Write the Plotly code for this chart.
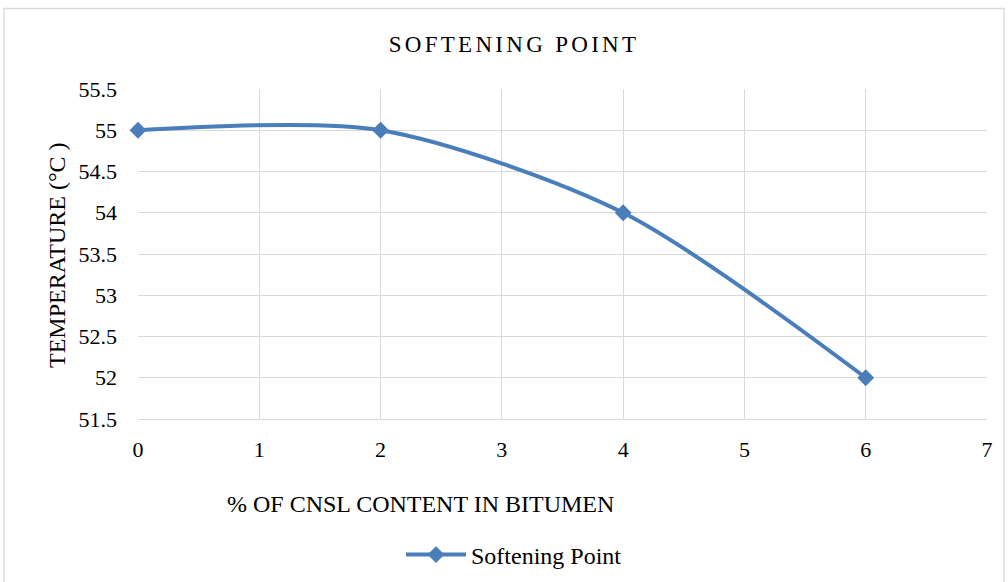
import plotly.graph_objects as go

cnsl_pct = [0, 2, 4, 6]
softening_point = [55, 55, 54, 52]
x_ticks = [0, 1, 2, 3, 4, 5, 6, 7]
y_ticks = [51.5, 52, 52.5, 53, 53.5, 54, 54.5, 55, 55.5]

W, H = 1008, 582
L, R, T, B = 138, 987, 89, 419
pw, ph = R - L, B - T

def px(xp):
    return (xp - L) / pw

def py(yp):
    return (B - yp) / ph

FONT = "Liberation Serif, Times New Roman, serif"
BLUE = "#4A7EBB"
GRID = "#d9d9d9"

fig = go.Figure()
fig.add_trace(go.Scatter(
    x=cnsl_pct, y=softening_point, mode="lines+markers",
    name="Softening Point",
    line=dict(color=BLUE, width=4, shape="spline", smoothing=0.8),
    marker=dict(symbol="diamond", size=13, color=BLUE),
    cliponaxis=False,
))

fig.update_layout(
    width=W, height=H,
    margin=dict(l=L, r=W - R, t=T, b=H - B, autoexpand=False),
    paper_bgcolor="white", plot_bgcolor="white",
    font=dict(family=FONT, size=22, color="#000000"),
    title=dict(
        text='<span style="letter-spacing:3.3px">SOFTENING POINT</span>',
        xref="container", yref="container",
        x=514 / W, y=1 - 44 / H, xanchor="center", yanchor="middle",
        font=dict(family=FONT, size=23, color="#000000"),
    ),
    xaxis=dict(
        range=[0, 7], tickvals=x_ticks, ticktext=[str(v) for v in x_ticks],
        showgrid=True, gridcolor=GRID, gridwidth=1.3,
        zeroline=False, showline=True, linecolor=GRID, linewidth=1.3,
        ticks="", ticklabelstandoff=10,
        tickfont=dict(family=FONT, size=22),
    ),
    yaxis=dict(
        range=[51.5, 55.5], tickvals=y_ticks,
        ticktext=[("%g" % v) for v in y_ticks],
        showgrid=True, gridcolor=GRID, gridwidth=1.3,
        zeroline=False, showline=False,
        ticks="", ticklabelstandoff=20,
        tickfont=dict(family=FONT, size=22),
    ),
    showlegend=True,
    legend=dict(
        orientation="h", x=px(514), y=py(555),
        xanchor="center", yanchor="middle",
        font=dict(family=FONT, size=24),
        itemwidth=60,
        bgcolor="rgba(0,0,0,0)",
    ),
    annotations=[
        dict(text="TEMPERATURE (°C )", xref="paper", yref="paper",
             x=px(57), y=py(255), textangle=-90, showarrow=False,
             xanchor="center", yanchor="middle",
             font=dict(family=FONT, size=24)),
        dict(text="% OF CNSL CONTENT IN BITUMEN", xref="paper", yref="paper",
             x=px(420), y=py(504), showarrow=False,
             xanchor="center", yanchor="middle",
             font=dict(family=FONT, size=24)),
    ],
    shapes=[
        dict(type="rect", xref="paper", yref="paper",
             x0=px(4), x1=px(1004), y0=py(600), y1=py(8.5),
             line=dict(color=GRID, width=1.3), layer="below"),
    ],
)

fig.write_html(
    "out.html",
    config={"displayModeBar": False},
    post_script="document.body.style.margin='0px';document.body.style.overflow='hidden';",
)
